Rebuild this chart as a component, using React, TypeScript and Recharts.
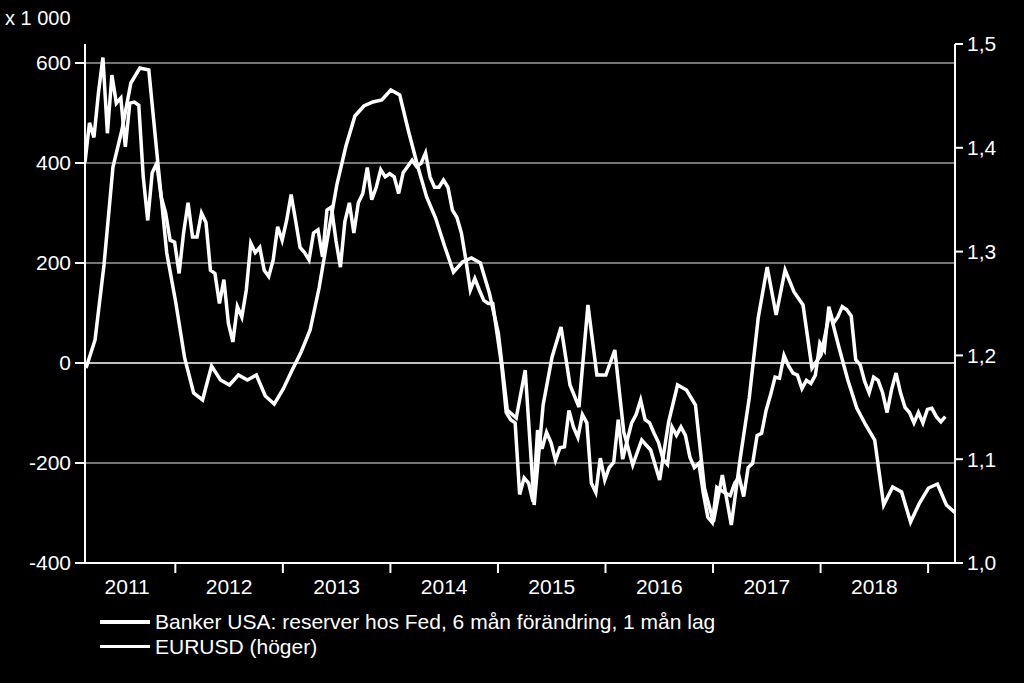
import { LineChart, Line, XAxis, YAxis, ReferenceLine } from 'recharts';

// Bankernas reserver hos Fed, 6 mån förändring (mdr USD), månadsdata från mars 2011
const FED_START = 2011.17;
const fedChange = [
  -10, 46, 196, 392, 466, 560, 590, 586, 402, 220,
  122, 10, -60, -74, -6, -34, -44, -24, -34, -24,
  -66, -82, -52, -14, 22, 66, 150, 256, 358, 434,
  494, 514, 522, 526, 546, 536, 462, 394, 332, 290,
  234, 182, 202, 210, 200, 140, 60, -94, -110, -14,
  -284, -84, 12, 72, -44, -88, 116, -24, -24, 26,
  -138, -204, -154, -174, -234, -118, -44, -54, -84, -250,
  -318, -224, -324, -190, -70, 90, 192, 96, 186, 142,
  116, -10, 16, 102, 32, -34, -90, -124, -154, -284,
  -248, -258, -318, -280, -250, -242, -284, -300,
];

// EURUSD, halvmånadsdata
const EUR_START = 2011.16;
const eurusd = [
  1.386, 1.424, 1.41, 1.453, 1.487, 1.414, 1.47, 1.443, 1.448, 1.401,
  1.443, 1.444, 1.441, 1.372, 1.33, 1.376, 1.385, 1.353, 1.337, 1.311,
  1.309, 1.279, 1.318, 1.347, 1.314, 1.314, 1.337, 1.328, 1.282, 1.279,
  1.25, 1.273, 1.231, 1.213, 1.247, 1.237, 1.263, 1.308, 1.299, 1.304,
  1.282, 1.276, 1.292, 1.324, 1.311, 1.33, 1.355, 1.33, 1.304, 1.299,
  1.292, 1.318, 1.321, 1.295, 1.34, 1.343, 1.311, 1.285, 1.329, 1.347,
  1.318, 1.347, 1.356, 1.381, 1.35, 1.362, 1.379, 1.372, 1.375, 1.372,
  1.356, 1.376, 1.382, 1.388, 1.382, 1.385, 1.395, 1.372, 1.362, 1.362,
  1.369, 1.362, 1.34, 1.333, 1.318, 1.292, 1.263, 1.274, 1.263, 1.253,
  1.25, 1.25, 1.22, 1.19, 1.145, 1.138, 1.135, 1.066, 1.082, 1.077,
  1.059, 1.128, 1.11, 1.126, 1.116, 1.099, 1.111, 1.112, 1.147, 1.131,
  1.121, 1.143, 1.135, 1.077, 1.068, 1.101, 1.08, 1.092, 1.097, 1.138,
  1.1, 1.118, 1.135, 1.143, 1.157, 1.138, 1.135, 1.125, 1.116, 1.1,
  1.095, 1.131, 1.123, 1.131, 1.123, 1.102, 1.092, 1.096, 1.067, 1.044,
  1.039, 1.073, 1.07, 1.067, 1.065, 1.077, 1.083, 1.064, 1.092, 1.096,
  1.123, 1.125, 1.147, 1.162, 1.179, 1.178, 1.2, 1.19, 1.183, 1.181,
  1.168, 1.176, 1.173, 1.181, 1.212, 1.205, 1.247, 1.231, 1.237, 1.247,
  1.244, 1.238, 1.196, 1.191, 1.175, 1.164, 1.179, 1.176, 1.164, 1.145,
  1.167, 1.183, 1.164, 1.15, 1.145, 1.135, 1.145, 1.135, 1.148, 1.149,
  1.141, 1.136, 1.141,
];

const yearTicks = [2012, 2013, 2014, 2015, 2016, 2017, 2018, 2019];
const leftTicks = [-400, -200, 0, 200, 400, 600];
const gridLevels = [-200, 200, 400, 600];
const rightTicks = [1.0, 1.1, 1.2, 1.3, 1.4, 1.5];

const fedData = fedChange.map((v, i) => ({ t: FED_START + i / 12, fed: v }));
const eurData = eurusd.map((v, i) => ({ t: EUR_START + i / 24, eur: v }));

const FONT = "'Liberation Sans', Arial, sans-serif";
const X_MIN = 2011.16;
const X_MAX = 2019.25;
const PLOT_LEFT = 85;
const PLOT_W = 870;
const PX_YEAR = PLOT_W / (X_MAX - X_MIN);

// årtal skrivs mitt mellan två tickar
const YearTick = (props: any) => {
  const { x, y, payload } = props;
  const yr = payload.value - 1;
  const cx = yr === 2011 ? (PLOT_LEFT + x) / 2 - 3 : x - PX_YEAR / 2;
  return (
    <text x={cx} y={y + 19} textAnchor="middle" fill="#fff" fontSize={21} fontFamily={FONT}>
      {yr}
    </text>
  );
};

export default function App() {
  return (
    <div style={{ position: 'fixed', inset: 0, background: '#000' }}>
      <div style={{ position: 'relative', width: 1024, height: 683, fontFamily: FONT, color: '#fff' }}>
        <div style={{ position: 'absolute', left: 5, top: 7, fontSize: 20 }}>x 1 000</div>
        <LineChart width={1024} height={683} margin={{ top: 44, right: 9, bottom: 80, left: 25 }}>
          <XAxis
            type="number"
            dataKey="t"
            domain={[X_MIN, X_MAX]}
            ticks={yearTicks}
            height={40}
            stroke="#fff"
            strokeWidth={2}
            tickSize={10}
            tick={<YearTick />}
            allowDataOverflow
          />
          <YAxis
            yAxisId="left"
            domain={[-400, 638]}
            ticks={leftTicks}
            width={60}
            stroke="#fff"
            strokeWidth={2}
            tickSize={10}
            tickMargin={4}
            tick={{ fill: '#fff', fontSize: 21, fontFamily: FONT }}
            allowDataOverflow
          />
          <YAxis
            yAxisId="right"
            orientation="right"
            domain={[1, 1.5]}
            ticks={rightTicks}
            width={60}
            stroke="#fff"
            strokeWidth={2}
            tickSize={8}
            tickMargin={4}
            tickFormatter={(v: number) => v.toFixed(1).replace('.', ',')}
            tick={{ fill: '#fff', fontSize: 21, fontFamily: FONT }}
            allowDataOverflow
          />
          {gridLevels.map((g) => (
            <ReferenceLine key={g} yAxisId="left" y={g} stroke="#9c9c9c" strokeWidth={1.5} />
          ))}
          <ReferenceLine yAxisId="left" y={0} stroke="#fff" strokeWidth={1.5} />
          <Line
            yAxisId="left"
            data={fedData}
            dataKey="fed"
            type="linear"
            stroke="#fff"
            strokeWidth={3.5}
            dot={false}
            isAnimationActive={false}
          />
          <Line
            yAxisId="right"
            data={eurData}
            dataKey="eur"
            type="linear"
            stroke="#fff"
            strokeWidth={3.5}
            dot={false}
            isAnimationActive={false}
          />
        </LineChart>
        <div style={{ position: 'absolute', left: 100, top: 609, fontSize: 21, lineHeight: '25px' }}>
          <div style={{ display: 'flex', alignItems: 'center' }}>
            <span style={{ display: 'inline-block', width: 50, height: 4, background: '#fff', marginRight: 5 }} />
            Banker USA: reserver hos Fed, 6 mån förändring, 1 mån lag
          </div>
          <div style={{ display: 'flex', alignItems: 'center' }}>
            <span style={{ display: 'inline-block', width: 50, height: 3, background: '#fff', marginRight: 5 }} />
            EURUSD (höger)
          </div>
        </div>
      </div>
    </div>
  );
}
